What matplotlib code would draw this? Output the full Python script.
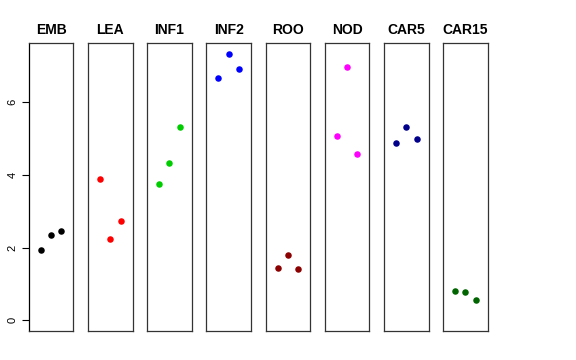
import matplotlib.pyplot as plt

plt.rcParams['font.family'] = ['Liberation Sans', 'DejaVu Sans']

tissues = ["EMB", "LEA", "INF1", "INF2", "ROO", "NOD", "CAR5", "CAR15"]
colors = ["black", "red", "#00CD00", "blue", "#8B0000", "magenta", "#00008B", "#006400"]
reps = [1, 2, 3]

emb = [1.94, 2.35, 2.47]
lea = [3.88, 2.23, 2.73]
inf1 = [3.75, 4.33, 5.31]
inf2 = [6.67, 7.33, 6.91]
roo = [1.43, 1.81, 1.41]
nod = [5.08, 6.96, 4.57]
car5 = [4.87, 5.32, 5.00]
car15 = [0.82, 0.77, 0.55]
values = [emb, lea, inf1, inf2, roo, nod, car5, car15]

yticks = [0, 2, 4, 6]

W, H = 576, 360
fig = plt.figure(figsize=(W / 100, H / 100), dpi=100)

left0 = 28.7
step = 59.2
pw = 44.7
top_px = 43.3
bot_px = 331.0

ymax = max(max(v) for v in values)
pad = 0.04 * ymax

for i, (name, col, vals) in enumerate(zip(tissues, colors, values)):
    l = left0 + i * step
    ax = fig.add_axes([l / W, (H - bot_px) / H, pw / W, (bot_px - top_px) / H])
    ax.scatter(reps, vals, s=22, color=col, zorder=3, linewidths=0)
    ax.set_xlim(-0.16, 4.16)
    ax.set_ylim(-pad, ymax + pad)
    ax.set_xticks([])
    for sp in ax.spines.values():
        sp.set_color("#333333")
        sp.set_linewidth(0.9)
    ax.set_title(name, fontweight="bold", fontsize=10, pad=6.5)
    if i == 0:
        ax.set_yticks(yticks)
        ax.tick_params(axis="y", length=5, width=0.8, labelsize=8, pad=3)
        for t in ax.get_yticklabels():
            t.set_rotation(90)
            t.set_va("center")
        ax.spines["left"].set_color("black")
    else:
        ax.set_yticks([])

fig.savefig("out.png", dpi=100)
